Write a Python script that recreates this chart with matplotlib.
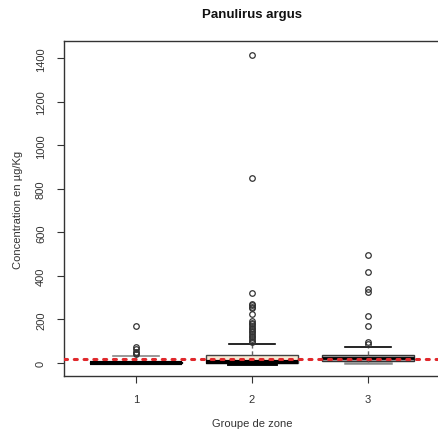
import matplotlib
matplotlib.use("Agg")
import matplotlib.pyplot as plt

plt.rcParams['font.family'] = ['Liberation Sans', 'DejaVu Sans']

groups = ["1", "2", "3"]
q1 = [0, 2, 10]
med = [2, 4, 24]
q3 = [5, 38, 38]
whislo = [0, 2, 0]
whishi = [33, 89, 74]
fliers = [
    [40, 46, 52, 62, 75, 170],
    [1415, 850, 323, 273, 266, 258, 254, 226, 192, 185, 178, 170, 162, 155,
     148, 140, 132, 125, 118, 110, 102, 95],
    [497, 416, 338, 326, 218, 172, 95, 88],
]
threshold = 20
yticks = [0, 200, 400, 600, 800, 1000, 1200, 1400]

box_face = ["#d9cdb8", "#f8e8d2", "#a3a3a3"]
box_edge = ["#777777", "#444444", "#333333"]
med_lw = [3, 3, 2]
lo_cap_col = ["black", "black", "#888888"]
hi_cap_col = ["#888888", "black", "black"]
lo_cap_lw = [1.0, 3.5, 1.8]

fig = plt.figure(figsize=(4.38, 4.35), dpi=100)
ax = fig.add_axes([64/438, 58/435, 376/438, 335/435])

for i in range(3):
    st = [dict(q1=q1[i], med=med[i], q3=q3[i], whislo=whislo[i],
               whishi=whishi[i], label=groups[i])]
    r = ax.bxp(st, positions=[i + 1], widths=0.8, patch_artist=True,
               showfliers=False, capwidths=0.4,
               boxprops=dict(facecolor=box_face[i], edgecolor=box_edge[i], linewidth=1),
               medianprops=dict(color='black', linewidth=med_lw[i], solid_capstyle='butt'),
               whiskerprops=dict(color="#666666", linestyle=(0, (3, 2)), linewidth=1),
               capprops=dict(color="black", linewidth=1.2))
    caps = r['caps']
    caps[0].set_color(lo_cap_col[i]); caps[0].set_linewidth(lo_cap_lw[i])
    caps[1].set_color(hi_cap_col[i])
    if i == 0:
        r['boxes'][0].set_edgecolor('black')
        r['boxes'][0].set_facecolor('black')
    ax.plot([i + 1] * len(fliers[i]), fliers[i], linestyle='none', marker='o',
            markerfacecolor='none', markeredgecolor='#333333', markersize=4,
            markeredgewidth=0.9, zorder=4)

ax.axhline(threshold, color="#e0282c", linestyle=(0, (1, 2.2)), linewidth=2.2,
           dash_capstyle='round', zorder=5)

ax.set_xlim(0.38, 3.62)
ax.set_ylim(-60, 1480)
ax.set_xticks([1, 2, 3])
ax.set_xticklabels(groups)
ax.set_yticks(yticks)
ax.set_yticklabels([str(v) for v in yticks], rotation=90, va='center')
ax.tick_params(axis='both', labelsize=8, colors='#333333', length=5, width=0.8)
ax.tick_params(axis='y', pad=8)
ax.tick_params(axis='x', pad=8)
for sp in ax.spines.values():
    sp.set_color('#333333'); sp.set_linewidth(1)

ax.set_xlabel("Groupe de zone", fontsize=8, color='#333333', labelpad=10)
ax.set_ylabel("Concentration en µg/Kg", fontsize=8, color='#333333', labelpad=9)
fig.text(252/438, 1 - 15/435, "Panulirus argus", ha='center', va='center',
         fontsize=9.5, fontweight='bold', color='#111111')

fig.savefig("out.png", dpi=100)
